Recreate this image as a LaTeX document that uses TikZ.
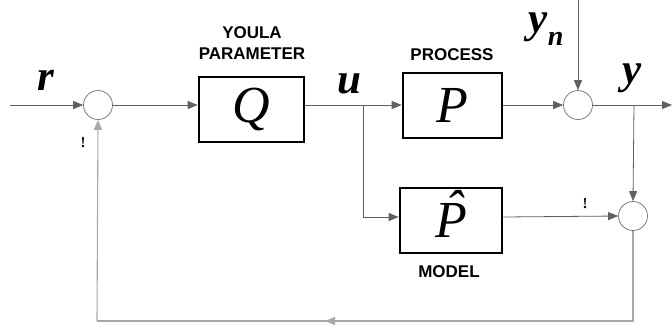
\documentclass[tikz,border=0pt]{standalone}
\usepackage{fontspec}
\setmainfont{Liberation Serif}
\newfontfamily\lsans{Liberation Sans}
\newfontfamily\serit{Liberation Serif Italic}
\newfontfamily\serbi{Liberation Serif Bold Italic}
\newfontfamily\serb{Liberation Serif Bold}
\usetikzlibrary{arrows.meta}
\definecolor{linegray}{HTML}{606060}
\definecolor{fbgray}{HTML}{A8A8A8}
\definecolor{circgray}{HTML}{707070}
\tikzset{
  blockbox/.style={draw=black, line width=2.6pt, fill=white, minimum width=#1, inner sep=0pt, font=\serit\fontsize{52}{52}\selectfont},
  sumnode/.style={circle, draw=circgray, line width=0.7pt, minimum size=29pt, inner sep=0pt},
  capt/.style={font=\lsans\bfseries\fontsize{17}{21}\selectfont, align=center, inner sep=0pt},
  sig/.style={font=\serbi\fontsize{43}{43}\selectfont, inner sep=0pt},
  bang/.style={font=\serb\fontsize{15}{15}\selectfont, inner sep=0pt},
  conn/.style={draw=linegray, line width=0.8pt},
  fb/.style={draw=fbgray, line width=1.1pt},
  tip/.style={-{Triangle[length=10pt,width=8pt]}},
}
\begin{document}
\begin{tikzpicture}[x=1pt,y=-1pt]
\useasboundingbox (0,0) rectangle (672,327);
% blocks
\node[blockbox=105pt, minimum height=65pt] (q) at (251.5,109.5) {Q};
\node[blockbox=99pt, minimum height=65pt] (p) at (452.5,105.5) {P};
\node[blockbox=102pt, minimum height=65pt] (ph) at (451,220.5) {\smash{\rlap{\kern0.2em\raisebox{0.22em}{ˆ}}}P};
% summing junctions
\node[sumnode] (s1) at (98,105) {};
\node[sumnode] (s2) at (578,105) {};
\node[sumnode] (s3) at (633,216) {};
% captions
\node[capt] (youla) at (252,43) {YOULA\\PARAMETER};
\node[capt] (proc) at (452,55) {PROCESS};
\node[capt] (model) at (449,272) {MODEL};
% signal labels
\node[sig] (r) at (46,80) {r};
\node[sig] (u) at (349,84) {u};
\node[sig] (y) at (632,78) {y};
\node[sig] (yn) at (546,29) {y\raisebox{-0.3em}{\fontsize{28}{28}\selectfont n}};
\node[bang] (b1) at (83,143) {!};
\node[bang] (b2) at (585,204) {!};
% coordinates
\coordinate (in) at (10,105);
\coordinate (out) at (672,105);
\coordinate (ntop) at (578,0);
\coordinate (br1) at (363,105);
\coordinate (br2) at (634,105);
\coordinate (fbr) at (633,321);
\coordinate (fbl) at (97,321);
\coordinate (fbm) at (325,321);
% connectors
\draw[conn,tip] (in) -- (s1.west);
\draw[conn,tip] (s1.east) -- (s1.east -| q.west);
\draw[conn,tip] (q.east |- br1) -- (br1 -| p.west);
\draw[conn,tip] (br1) |- (ph.west |- 0,217);
\draw[conn,tip] (p.east |- s2) -- (s2.west);
\draw[conn,tip] (ntop) -- (s2.north);
\draw[conn,tip] (s2.east) -- (out);
\draw[conn,tip] (br2) -- (s3.north);
\draw[conn,tip] (ph.east |- 0,217) -- (s3.west);
\draw[fb] (s3.south) -- (fbr) -- (fbl);
\draw[fb,tip] (fbr) -- (fbm);
\draw[fb,tip] (fbl) -- (s1.south);
\end{tikzpicture}
\end{document}
